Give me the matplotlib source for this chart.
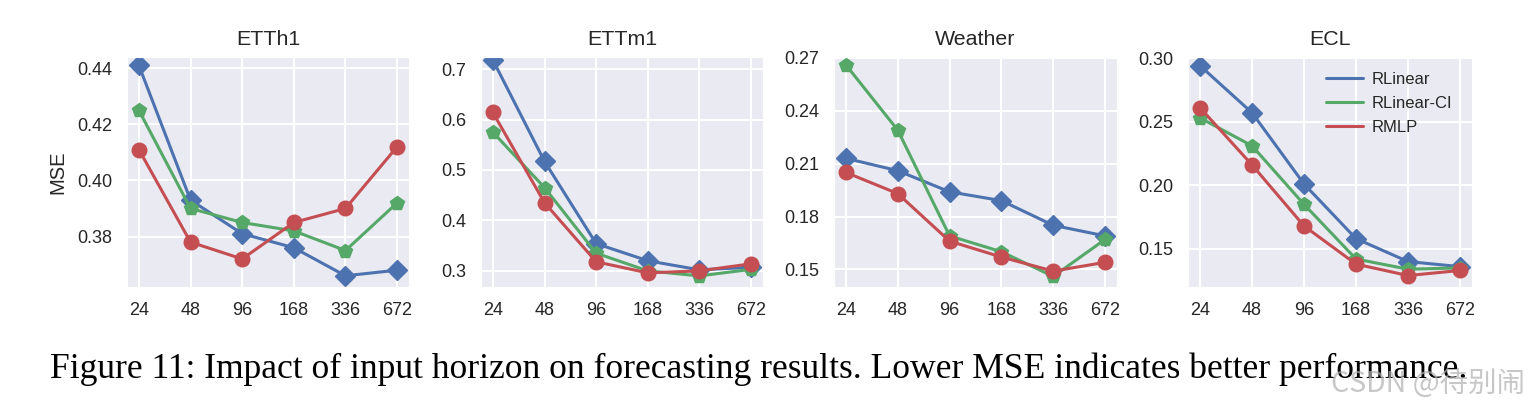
import matplotlib
matplotlib.use('Agg')
import matplotlib.pyplot as plt
import seaborn as sns
from matplotlib.lines import Line2D

#---datos---#
horizontes = ['24', '48', '96', '168', '336', '672']
modelos = ['RLinear', 'RLinear-CI', 'RMLP']
colores = ['#4C72B0', '#55A868', '#C44E52']
marcadores = ['D', 'p', 'o']

titulos = ['ETTh1', 'ETTm1', 'Weather', 'ECL']

etth1_rlinear = [0.441, 0.393, 0.381, 0.376, 0.366, 0.368]
etth1_ci = [0.425, 0.390, 0.385, 0.382, 0.375, 0.392]
etth1_rmlp = [0.411, 0.378, 0.372, 0.385, 0.390, 0.412]

ettm1_rlinear = [0.718, 0.517, 0.354, 0.320, 0.302, 0.307]
ettm1_ci = [0.575, 0.465, 0.335, 0.300, 0.290, 0.303]
ettm1_rmlp = [0.614, 0.435, 0.318, 0.296, 0.300, 0.314]

weather_rlinear = [0.213, 0.206, 0.194, 0.189, 0.175, 0.169]
weather_ci = [0.266, 0.229, 0.169, 0.160, 0.146, 0.167]
weather_rmlp = [0.205, 0.193, 0.166, 0.157, 0.149, 0.154]

ecl_rlinear = [0.294, 0.257, 0.201, 0.158, 0.140, 0.136]
ecl_ci = [0.253, 0.231, 0.185, 0.142, 0.134, 0.135]
ecl_rmlp = [0.261, 0.216, 0.168, 0.138, 0.129, 0.133]

yticks = [[0.38, 0.40, 0.42, 0.44],
          [0.3, 0.4, 0.5, 0.6, 0.7],
          [0.15, 0.18, 0.21, 0.24, 0.27],
          [0.15, 0.20, 0.25, 0.30]]
ylims = [(0.362, 0.444), (0.268, 0.724), (0.140, 0.2705), (0.120, 0.3008)]
formatos = ['%.2f', '%.1f', '%.2f', '%.2f']

datos = [[etth1_rlinear, etth1_ci, etth1_rmlp],
         [ettm1_rlinear, ettm1_ci, ettm1_rmlp],
         [weather_rlinear, weather_ci, weather_rmlp],
         [ecl_rlinear, ecl_ci, ecl_rmlp]]

#---estilo---#
sns.set_style('darkgrid')
plt.rcParams['font.family'] = ['Liberation Sans', 'DejaVu Sans']

fig = plt.figure(figsize=(15.31, 4.08), dpi=100)
izquierdas = [127, 481, 834, 1188]
anchos = [282, 282, 283, 284]

x = list(range(len(horizontes)))
for i in range(4):
    ax = fig.add_axes([izquierdas[i] / 1531, 1 - 287 / 408, anchos[i] / 1531, 230 / 408])
    for j in range(3):
        ax.plot(x, datos[i][j], color=colores[j], marker=marcadores[j],
                markersize=10 if marcadores[j] != 'o' else 10.5, linewidth=2.2, label=modelos[j])
    ax.set_xticks(x)
    ax.set_xticklabels(horizontes)
    ax.set_xlim(-0.23, 5.23)
    ax.set_yticks(yticks[i])
    ax.set_yticklabels([formatos[i] % v for v in yticks[i]])
    ax.set_ylim(ylims[i])
    ax.tick_params(labelsize=13, pad=7, colors='#262626')
    ax.set_title(titulos[i], fontsize=15.4, pad=8.5, color='#262626')
    ax.grid(True, color='white', linewidth=1.5)
    if i == 0:
        ax.set_ylabel('MSE', fontsize=14.5, color='#262626', labelpad=7)
    if i == 3:
        manijas = [Line2D([0], [0], color=c, linewidth=2.2) for c in colores]
        ax.legend(manijas, modelos, loc='upper right', fontsize=12, frameon=False,
                  handlelength=2.2, handletextpad=0.55, labelspacing=0.55,
                  borderaxespad=0, bbox_to_anchor=(0.955, 0.965))

#---pie de figura---#
fig.text(50 / 1531, 1 - 378 / 408,
         'Figure 11: Impact of input horizon on forecasting results. Lower MSE indicates better performance.',
         fontsize=25.6, family='Liberation Serif', va='baseline', ha='left', color='black')
fig.text(1525 / 1531, 1 - 384 / 408, 'CSDN @待别闹', fontsize=20.5, color='#b0b0b0', alpha=0.7,
         family=['Noto Sans CJK SC', 'DejaVu Sans'], ha='right', va='center')

plt.savefig('out.png', dpi=100)
